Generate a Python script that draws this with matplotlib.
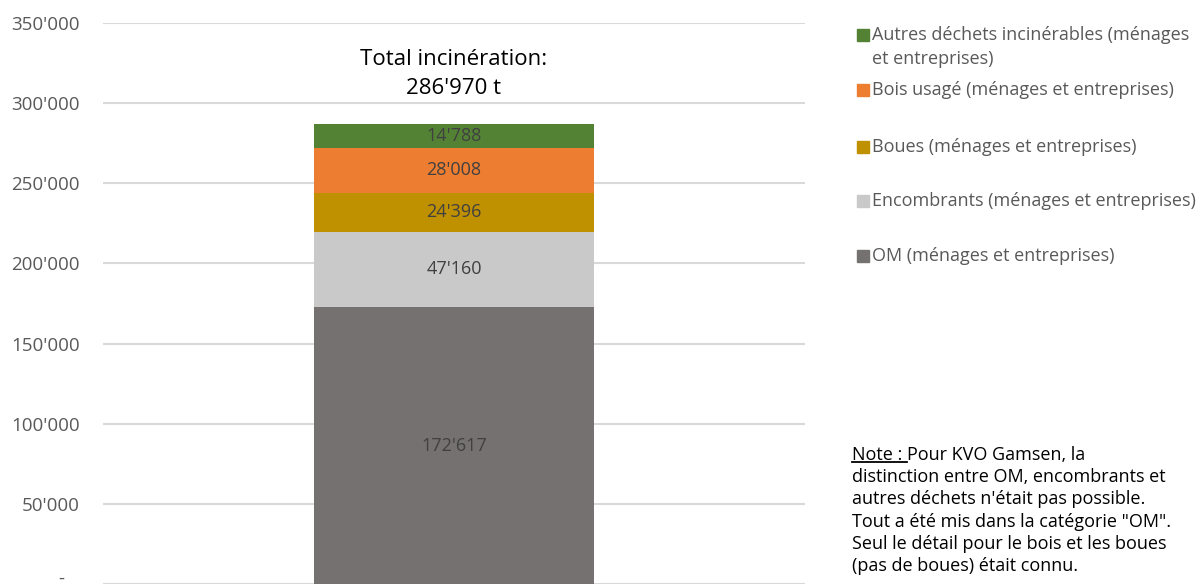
import matplotlib.pyplot as plt
from matplotlib.patches import Rectangle
from matplotlib.lines import Line2D
from matplotlib.ticker import FuncFormatter

plt.rcParams['font.family'] = ['Open Sans', 'DejaVu Sans']

# tonnages par catégorie (du bas vers le haut de la pile)
categories = [
    "OM (ménages et entreprises)",
    "Encombrants (ménages et entreprises)",
    "Boues (ménages et entreprises)",
    "Bois usagé (ménages et entreprises)",
    "Autres déchets incinérables (ménages\net entreprises)",
]
valeurs = [172617, 47160, 24396, 28008, 14788]
couleurs = ["#767171", "#C9C9C9", "#BF9000", "#ED7D31", "#548235"]
total = 286970
yticks = [0, 50000, 100000, 150000, 200000, 250000, 300000, 350000]


def apostrophe(v, pos=None):
    if v == 0:
        return "-   "
    return f"{int(v):,}".replace(",", "'")


fig = plt.figure(figsize=(11.97, 5.87), dpi=100)
ax = fig.add_axes([0.086, 0.005, 0.5865, 0.956])

bas = 0
for val, col in zip(valeurs, couleurs):
    ax.bar(0, val, width=0.4, bottom=bas, color=col, zorder=3)
    ax.text(0, bas + val / 2, apostrophe(val), ha="center", va="center",
            fontsize=13, color="#404040", zorder=4)
    bas += val

ax.text(0, 318000, "Total incinération:\n" + apostrophe(total) + " t",
        ha="center", va="center", fontsize=16, color="black", linespacing=1.5)

ax.set_xlim(-0.5, 0.5)
ax.set_ylim(0, 350000)
ax.set_yticks(yticks)
ax.yaxis.set_major_formatter(FuncFormatter(apostrophe))
ax.set_xticks([])
ax.tick_params(axis="y", length=0, pad=16.5, labelsize=13.5, labelcolor="#595959")
ax.get_yticklabels()[0].set_verticalalignment("baseline")
ax.grid(axis="y", color="#D9D9D9", linewidth=1.5, zorder=0)
for s in ax.spines.values():
    s.set_visible(False)

# légende dessinée à la main (ordre inverse de la pile)
W, H = fig.get_size_inches() * fig.dpi
leg_y = [47, 90, 147, 201, 256]
for lab, col, y in zip(categories[::-1], couleurs[::-1], leg_y):
    carre_y = y - 12 if "\n" in lab else y
    fig.patches.append(Rectangle((857 / W, 1 - (carre_y + 6) / H), 12 / W, 12 / H,
                                 transform=fig.transFigure, color=col))
    fig.text(872 / W, 1 - y / H, lab, ha="left", va="center", fontsize=13,
             color="#595959", linespacing=1.45)

# note en bas à droite
note_x = 852 / W
lignes = ["Pour KVO Gamsen, la",
          "distinction entre OM, encombrants et",
          "autres déchets n'était pas possible.",
          "Tout a été mis dans la catégorie \"OM\".",
          "Seul le détail pour le bois et les boues",
          "(pas de boues) était connu."]
t_note = fig.text(note_x, 1 - 455 / H, "Note : ", ha="left", va="center",
                  fontsize=13, color="black")
fig.canvas.draw()
bb = t_note.get_window_extent()
x1 = bb.x1 / W
y_ul = (bb.y0 + 2) / H
fig.lines.append(Line2D([note_x, x1], [y_ul, y_ul], transform=fig.transFigure,
                        color="black", linewidth=1.3))
for i, ligne in enumerate(lignes):
    x = x1 if i == 0 else note_x
    fig.text(x, 1 - (455 + 22.2 * i) / H, ligne, ha="left", va="center",
             fontsize=13, color="black")

fig.savefig("out.png", dpi=100)
